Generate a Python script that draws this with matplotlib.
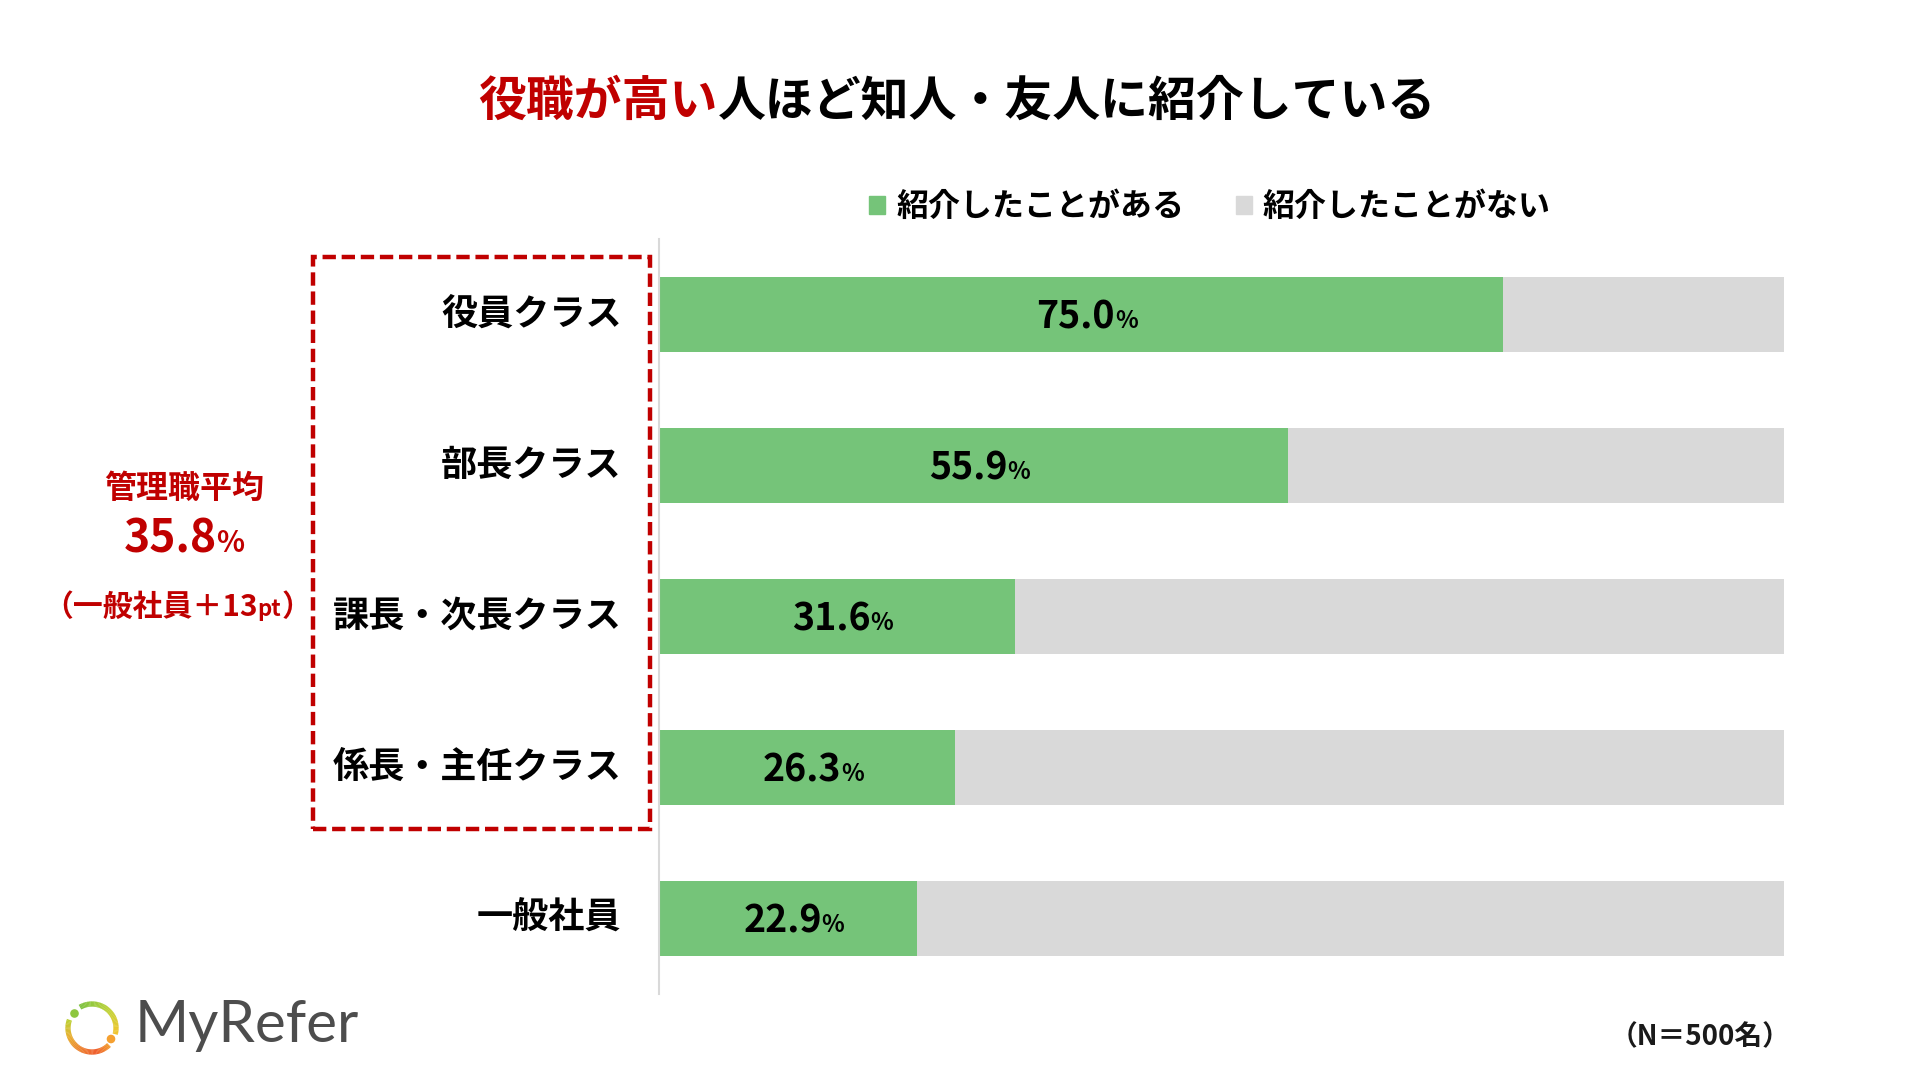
import matplotlib
matplotlib.use('Agg')
import matplotlib.pyplot as plt
import numpy as np
from matplotlib.patches import Rectangle, Arc, Circle, Patch
from matplotlib.colors import to_rgb
from matplotlib.transforms import ScaledTranslation

plt.rcParams['font.family'] = ['Noto Sans CJK JP', 'DejaVu Sans']

# ---- data ----
categories = ['役員クラス', '部長クラス', '課長・次長クラス', '係長・主任クラス', '一般社員']
introduced = [75.0, 55.9, 31.6, 26.3, 22.9]
not_introduced = [25.0, 44.1, 68.4, 73.7, 77.1]
series_names = ['紹介したことがある', '紹介したことがない']
title_red = '役職が高い'
title_black = '人ほど知人・友人に紹介している'
avg_label = '管理職平均'
avg_value = 35.8
avg_diff = 13
sample_note = '（N＝500名）'
brand = 'MyRefer'

GREEN = '#75C479'
GRAY = '#D9D9D9'
RED = '#C00000'

W, H = 1920, 1080
fig = plt.figure(figsize=(19.2, 10.8), dpi=100)
fig.patch.set_facecolor('white')

ax = fig.add_axes([659 / W, 1 - 994 / H, (1784 - 659) / W, (994 - 239) / H])
y = np.arange(len(categories))
ax.barh(y, introduced, height=0.5, color=GREEN, label=series_names[0])
ax.barh(y, not_introduced, left=introduced, height=0.5, color=GRAY, label=series_names[1])
ax.set_xlim(0, 100)
ax.set_ylim(len(categories) - 0.5, -0.5)
ax.set_yticks(y)
ax.set_yticklabels(categories, fontsize=26, fontweight='bold')
ax.tick_params(axis='y', length=0, pad=27)
for lbl in ax.get_yticklabels():
    lbl.set_transform(lbl.get_transform() + ScaledTranslation(0, 3 / 72, fig.dpi_scale_trans))
ax.set_xticks([])
for s in ['top', 'right', 'bottom']:
    ax.spines[s].set_visible(False)
ax.spines['left'].set_color(GRAY)
ax.spines['left'].set_linewidth(1.5)


def place_runs(parts, x, yb, align='center'):
    texts = []
    for s, size, color in parts:
        texts.append(fig.text(0, 0, s, fontsize=size, color=color, fontweight='bold',
                              ha='left', va='baseline'))
    fig.canvas.draw()
    r = fig.canvas.get_renderer()
    widths = [t.get_window_extent(r).width for t in texts]
    total = sum(widths)
    if align == 'center':
        x0 = x - total / 2
    elif align == 'right':
        x0 = x - total
    else:
        x0 = x
    for t, w in zip(texts, widths):
        t.set_position((x0 / W, yb / H))
        x0 += w
    return texts


# value labels
NUM_FS = 27
for i, v in enumerate(introduced):
    xc, yc = ax.transData.transform((v / 2, i))
    yb = yc - 0.365 * NUM_FS * 100 / 72
    place_runs([(f'{v:.1f}', NUM_FS, 'black'), ('%', 17, 'black')], xc + 6, yb)

# title
place_runs([(title_red, 34.5, RED), (title_black, 34.5, 'black')], 957, 964)

# legend
handles = [Patch(color=GREEN, label=series_names[0]), Patch(color=GRAY, label=series_names[1])]
fig.legend(handles=handles, loc='center', bbox_to_anchor=(1210 / W, 1 - 207 / H), ncol=2,
           frameon=False, prop={'size': 23, 'weight': 'bold'}, handlelength=0.5,
           handleheight=0.5, handletextpad=0.35, columnspacing=1.6)

# dashed box
fig.add_artist(Rectangle((313 / W, 1 - 829 / H), (650 - 313) / W, (829 - 257) / H,
                         transform=fig.transFigure, fill=False, ec=RED, lw=3.2,
                         ls=(0, (3, 1.3)), joinstyle='miter'))

# left annotation
fig.text(184 / W, (1080 - 489) / H, avg_label, ha='center', va='center', color=RED,
         fontsize=23, fontweight='bold')
place_runs([(f'{avg_value:.1f}', 32, RED), ('%', 21, RED)], 184, 544 - 0.365 * 32 * 100 / 72)
place_runs([(f'（一般社員＋{avg_diff}', 21.5, RED), ('pt', 16, RED), ('）', 21.5, RED)],
           177, 475 - 0.37 * 21.5 * 100 / 72)

# sample note
fig.text(1790 / W, (1080 - 1037) / H, sample_note, ha='right', va='center',
         fontsize=20, fontweight='bold', color='#1a1a1a')

# logo
lax = fig.add_axes([62 / W, 22 / H, 60 / W, 60 / H])
lax.set_xlim(62, 122)
lax.set_ylim(22, 82)
lax.set_aspect('equal')
lax.axis('off')
anchors = [(0, '#E9C82F'), (45, '#C2D33A'), (90, '#95C93E'), (120, '#7EC242'),
           (160, '#B9D234'), (200, '#E8B030'), (250, '#EE7A30'), (280, '#EF5E2E'),
           (315, '#F29B2C'), (345, '#F2C22E'), (360, '#E9C82F')]
angs = np.array([a for a, _ in anchors])
cols = np.array([to_rgb(c) for _, c in anchors])


def col_at(a):
    a = a % 360
    return tuple(np.interp(a, angs, cols[:, k]) for k in range(3))


cx, cy, rr = 92, 52, 24
for t1, t2 in [(-15, 120), (160, 315)]:
    steps = np.arange(t1, t2, 3)
    for a in steps:
        b = min(a + 3.6, t2)
        lax.add_patch(Arc((cx, cy), 2 * rr, 2 * rr, theta1=a, theta2=b, lw=3.8,
                          color=col_at((a + b) / 2)))
lax.add_patch(Circle((74.5, 66.5), 3.6, color='#8DC63F'))
lax.add_patch(Circle((111, 41), 3.6, color='#F5A030'))
fig.text(135 / W, (1080 - 1026) / H, brand, ha='left', va='center', fontsize=42,
         family='Lato', color='#4D4D4D')

fig.savefig('out.png', dpi=100)
